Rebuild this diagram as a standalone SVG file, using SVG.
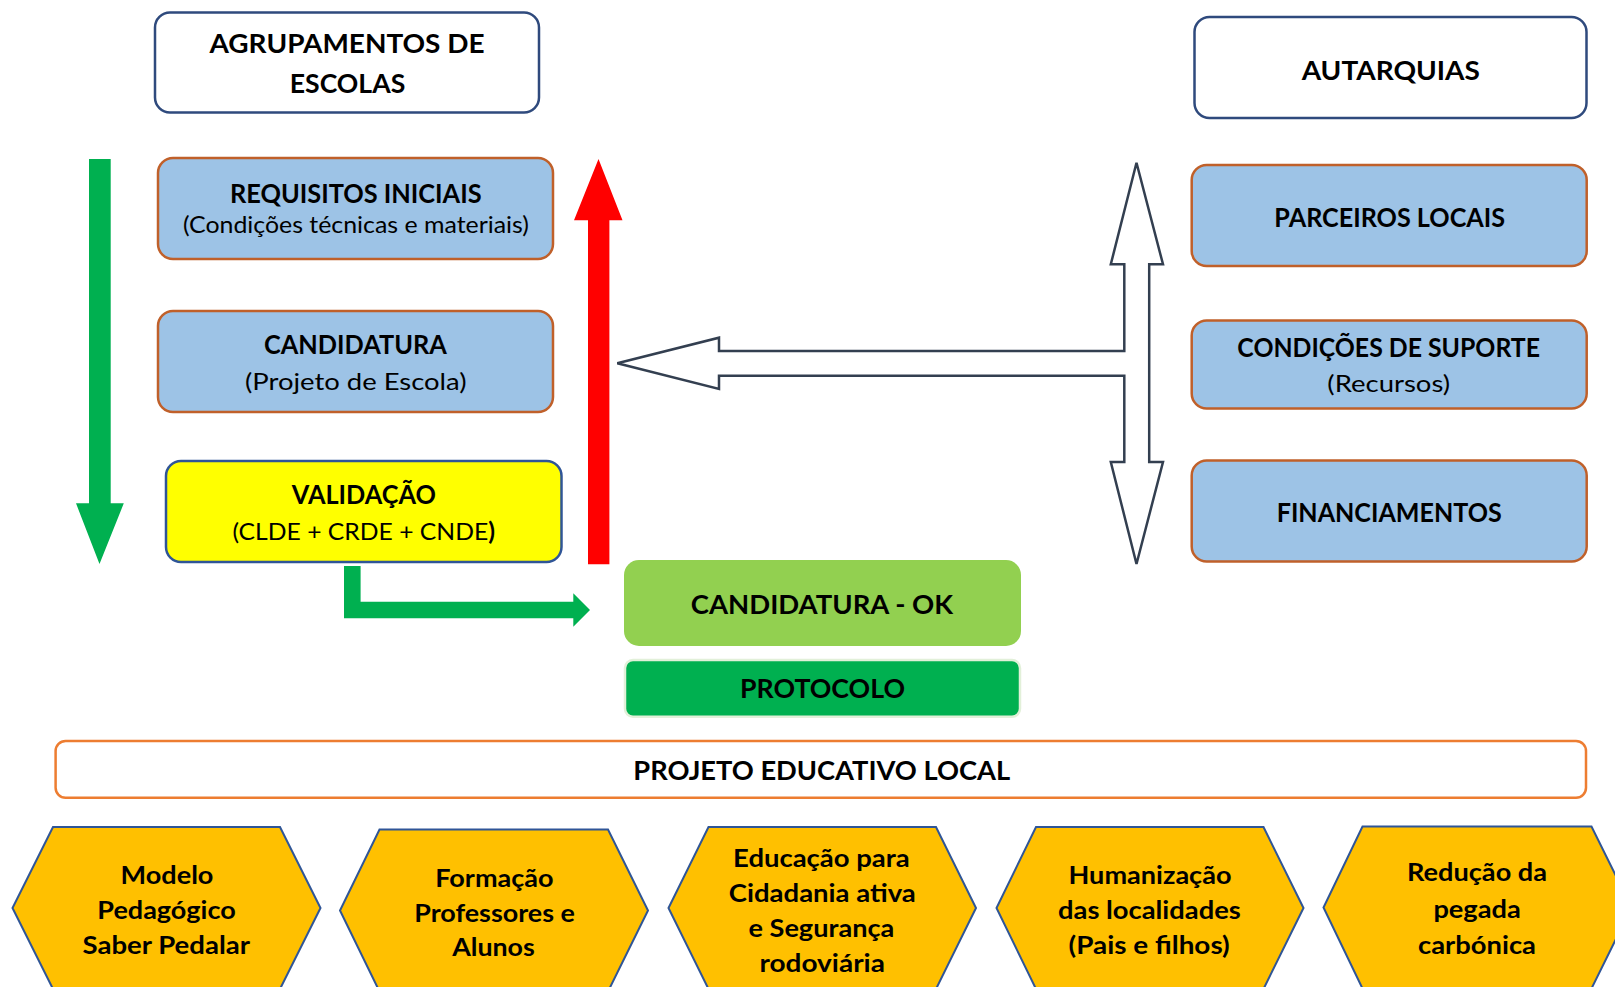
<svg xmlns="http://www.w3.org/2000/svg" width="1615" height="987" viewBox="0 0 1615 987">
<style>
.b{font-family:Lato,"Liberation Sans",sans-serif;font-weight:700;font-size:27px;text-anchor:middle;fill:#000}
.r{font-family:Lato,"Liberation Sans",sans-serif;font-weight:400;font-size:24px;text-anchor:middle;fill:#000}
.h{font-family:Lato,"Liberation Sans",sans-serif;font-weight:700;font-size:24px;text-anchor:middle;fill:#000}
.wbox{fill:#fff;stroke:#2F4A7D;stroke-width:2.5}
.bbox{fill:#9DC3E6;stroke:#C0602A;stroke-width:2.5}
.hex{fill:#FFC000;stroke:#2F5597;stroke-width:2}
</style>
<rect width="1615" height="987" fill="#fff"/>
<g id="connectors">
  <polygon id="green-down" fill="#00B050" points="89,159 110.7,159 110.7,503.3 123.8,503.3 99.5,564 76,503.3 89,503.3"/>
  <polygon id="red-up" fill="#FF0000" points="588,564.3 609.4,564.3 609.4,220.3 622.5,220.3 598.5,159 574,220.3 588,220.3"/>
  <polygon id="green-elbow" fill="#00B050" points="344,566 360.6,566 360.6,601.7 573.3,601.7 573.3,593.3 590,610 573.3,626.7 573.3,618.3 344,618.3"/>
  <polygon id="block-arrows" fill="#fff" stroke="#333F50" stroke-width="2.5" stroke-linejoin="miter" points="1136.5,162.7 1163,264.3 1149.2,264.3 1149.2,462 1163,462 1136.5,564 1110.8,462 1124.3,462 1124.3,375.7 719,375.7 719,389 617.3,363.3 719,337.7 719,351 1124.3,351 1124.3,264.3 1110.8,264.3"/>
</g>
<g id="agrupamentos">
  <rect class="wbox" x="155" y="12.5" width="384" height="100" rx="15"/>
  <text class="b" x="347" y="53.3" textLength="275" lengthAdjust="spacingAndGlyphs">AGRUPAMENTOS DE</text>
  <text class="b" x="347.5" y="92.5" textLength="115.5" lengthAdjust="spacingAndGlyphs">ESCOLAS</text>
</g>
<g id="requisitos">
  <rect class="bbox" x="158" y="158" width="395" height="101" rx="15"/>
  <text class="b" x="355.8" y="203.3" textLength="251.6" lengthAdjust="spacingAndGlyphs">REQUISITOS INICIAIS</text>
  <text class="r" x="355.9" y="232.5" textLength="346" lengthAdjust="spacingAndGlyphs">(Condições técnicas e materiais)</text>
</g>
<g id="candidatura">
  <rect class="bbox" x="158" y="311" width="395" height="101" rx="15"/>
  <text class="b" x="355.4" y="354" textLength="182.8" lengthAdjust="spacingAndGlyphs">CANDIDATURA</text>
  <text class="r" x="355.8" y="389.5" textLength="221.6" lengthAdjust="spacingAndGlyphs">(Projeto de Escola)</text>
</g>
<g id="validacao">
  <rect x="166" y="461" width="395.5" height="101" rx="15" fill="#FFFF00" stroke="#2F5597" stroke-width="2.5"/>
  <text class="b" x="363.8" y="504" textLength="144" lengthAdjust="spacingAndGlyphs">VALIDAÇÃO</text>
  <text class="r" x="363.75" y="540" textLength="262.5" lengthAdjust="spacingAndGlyphs">(CLDE + CRDE + CNDE<tspan font-weight="700">)</tspan></text>
</g>
<g id="autarquias">
  <rect class="wbox" x="1194.5" y="17" width="392" height="101" rx="15"/>
  <text class="b" x="1390.8" y="79.5" textLength="178.3" lengthAdjust="spacingAndGlyphs">AUTARQUIAS</text>
</g>
<g id="parceiros">
  <rect class="bbox" x="1191.7" y="165" width="395" height="101" rx="15"/>
  <text class="b" x="1389.7" y="226.5" textLength="230.7" lengthAdjust="spacingAndGlyphs">PARCEIROS LOCAIS</text>
</g>
<g id="condicoes">
  <rect class="bbox" x="1191.7" y="320.5" width="395" height="88" rx="15"/>
  <text class="b" x="1388.7" y="357" textLength="302.7" lengthAdjust="spacingAndGlyphs">CONDIÇÕES DE SUPORTE</text>
  <text class="r" x="1388.7" y="392" textLength="122.7" lengthAdjust="spacingAndGlyphs">(Recursos)</text>
</g>
<g id="financiamentos">
  <rect class="bbox" x="1191.7" y="460.5" width="395" height="101" rx="15"/>
  <text class="b" x="1389.2" y="522" textLength="225" lengthAdjust="spacingAndGlyphs">FINANCIAMENTOS</text>
</g>
<g id="candidatura-ok">
  <rect x="624" y="560" width="397" height="86" rx="15" fill="#92D050"/>
  <text class="b" x="822" y="614" textLength="262.3" lengthAdjust="spacingAndGlyphs">CANDIDATURA - OK</text>
</g>
<g id="protocolo">
  <rect x="625" y="660" width="395" height="56.7" rx="8" fill="#00B050" stroke="#E2F0D9" stroke-width="2.5"/>
  <text class="b" x="822.5" y="698.3" textLength="165" lengthAdjust="spacingAndGlyphs">PROTOCOLO</text>
</g>
<g id="projeto-educativo">
  <rect x="55.6" y="741" width="1530.4" height="56.7" rx="10" fill="#fff" stroke="#ED7D31" stroke-width="2.5"/>
  <text class="b" x="821.7" y="780" textLength="376.7" lengthAdjust="spacingAndGlyphs">PROJETO EDUCATIVO LOCAL</text>
</g>
<g id="hex-modelo">
  <polygon class="hex" points="53,827 280,827 320.5,908 280,989 53,989 12.5,908"/>
  <text class="h" x="167" y="884" textLength="92.9" lengthAdjust="spacingAndGlyphs">Modelo</text>
  <text class="h" x="166.5" y="919" textLength="138.4" lengthAdjust="spacingAndGlyphs">Pedagógico</text>
  <text class="h" x="166.3" y="954" textLength="167.4" lengthAdjust="spacingAndGlyphs">Saber Pedalar</text>
</g>
<g id="hex-formacao">
  <polygon class="hex" points="379.5,829.5 608,829.5 648,910.5 608,991.5 379.5,991.5 340,910.5"/>
  <text class="h" x="494.4" y="886.5" textLength="118.3" lengthAdjust="spacingAndGlyphs">Formação</text>
  <text class="h" x="494.6" y="921.5" textLength="160.7" lengthAdjust="spacingAndGlyphs">Professores e</text>
  <text class="h" x="493.5" y="955.5" textLength="82.6" lengthAdjust="spacingAndGlyphs">Alunos</text>
</g>
<g id="hex-educacao">
  <polygon class="hex" points="708.5,827 936,827 976,908 936,989 708.5,989 668.5,908"/>
  <text class="h" x="821.4" y="866.7" textLength="176.6" lengthAdjust="spacingAndGlyphs">Educação para</text>
  <text class="h" x="822.3" y="901.7" textLength="187" lengthAdjust="spacingAndGlyphs">Cidadania ativa</text>
  <text class="h" x="821.4" y="936.7" textLength="145.8" lengthAdjust="spacingAndGlyphs">e Segurança</text>
  <text class="h" x="822.2" y="971.7" textLength="125.5" lengthAdjust="spacingAndGlyphs">rodoviária</text>
</g>
<g id="hex-humanizacao">
  <polygon class="hex" points="1036,827 1263.5,827 1303.5,908 1263.5,989 1036,989 996.5,908"/>
  <text class="h" x="1150" y="884.3" textLength="163" lengthAdjust="spacingAndGlyphs">Humanização</text>
  <text class="h" x="1149.4" y="919.3" textLength="182.8" lengthAdjust="spacingAndGlyphs">das localidades</text>
  <text class="h" x="1149.1" y="953.5" textLength="161.2" lengthAdjust="spacingAndGlyphs">(Pais e filhos)</text>
</g>
<g id="hex-reducao">
  <polygon class="hex" points="1362.5,826.5 1591.5,826.5 1631.5,907.5 1591.5,988.5 1362.5,988.5 1323.5,907.5"/>
  <text class="h" x="1477" y="881" textLength="140" lengthAdjust="spacingAndGlyphs">Redução da</text>
  <text class="h" x="1477.1" y="917.5" textLength="87.4" lengthAdjust="spacingAndGlyphs">pegada</text>
  <text class="h" x="1477" y="954" textLength="118" lengthAdjust="spacingAndGlyphs">carbónica</text>
</g>
</svg>
